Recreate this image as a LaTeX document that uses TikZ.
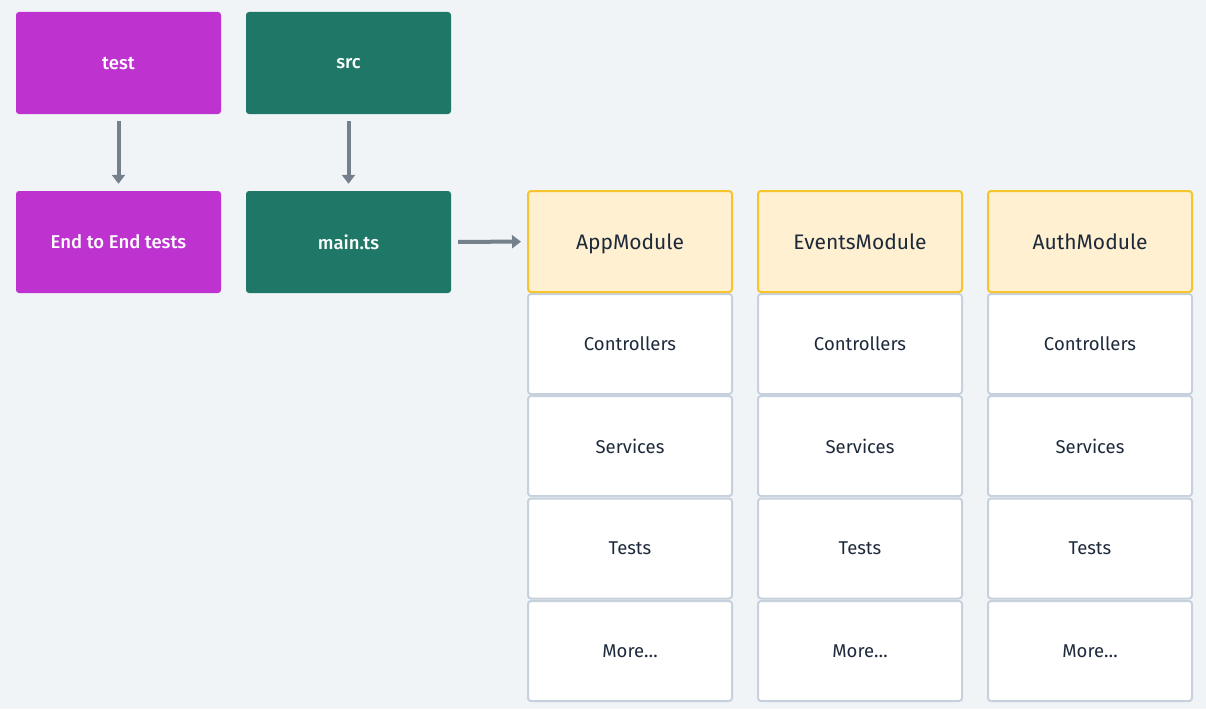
\documentclass[tikz,border=0pt]{standalone}
\usepackage{fontspec}
\setmainfont{Fira Sans}
\newfontfamily\medfont{Fira Sans Medium}
\usetikzlibrary{arrows.meta}
\definecolor{bg}{HTML}{F0F4F7}
\definecolor{purp}{HTML}{BE32D0}
\definecolor{grn}{HTML}{1F7867}
\definecolor{yfill}{HTML}{FEF0D0}
\definecolor{yedge}{HTML}{F7C42B}
\definecolor{cedge}{HTML}{C6D1DD}
\definecolor{ink}{HTML}{1E2A3B}
\definecolor{arr}{HTML}{74808C}
\tikzset{
  box/.style={rectangle, rounded corners=3pt, minimum width=205pt, minimum height=102pt, inner sep=0pt, text depth=0pt, text=white, font=\medfont\fontsize{18.5}{22}\selectfont},
  purpbox/.style={box, fill=purp},
  grnbox/.style={box, fill=grn},
  headbox/.style={rectangle, rounded corners=3pt, minimum width=204pt, minimum height=101pt, inner sep=0pt, text depth=0pt, fill=yfill, draw=yedge, line width=2pt, text=ink, font=\fontsize{21}{25}\selectfont},
  cellbox/.style={rectangle, rounded corners=3pt, minimum width=204pt, minimum height=100pt, inner sep=0pt, text depth=0pt, fill=white, draw=cedge, line width=2pt, text=ink, font=\fontsize{18.5}{22}\selectfont},
  conn/.style={draw=arr, line width=4pt, -{Triangle[width=13pt,length=9pt]}}
}
\begin{document}
\begin{tikzpicture}[x=1pt,y=-1pt]
\fill[bg] (0,0) rectangle (1206,709);
\useasboundingbox (0,0) rectangle (1206,709);
\node[purpbox] (test) at (118.5,63) {test};
\node[grnbox] (src) at (348.5,63) {src};
\node[purpbox] (e2e) at (118.5,242) {End to End tests};
\node[grnbox] (main) at (348.5,242) {main.ts};
\draw[conn, shorten <=7pt, shorten >=7pt] (test) -- (e2e);
\draw[conn, shorten <=7pt, shorten >=7pt] (src) -- (main);
\foreach \n/\x/\t in {app/630/AppModule, events/860/EventsModule, auth/1090/AuthModule}{
  \node[cellbox] (\n c) at (\x,344) {Controllers};
  \node[cellbox] (\n s) at (\x,446) {Services};
  \node[cellbox] (\n t) at (\x,548.5) {Tests};
  \node[cellbox] (\n m) at (\x,651) {More\dots};
  \node[headbox] (\n h) at (\x,241.5) {\t};
}
\draw[conn, shorten <=7pt, shorten >=6pt] (main) -- (apph);
\end{tikzpicture}
\end{document}
